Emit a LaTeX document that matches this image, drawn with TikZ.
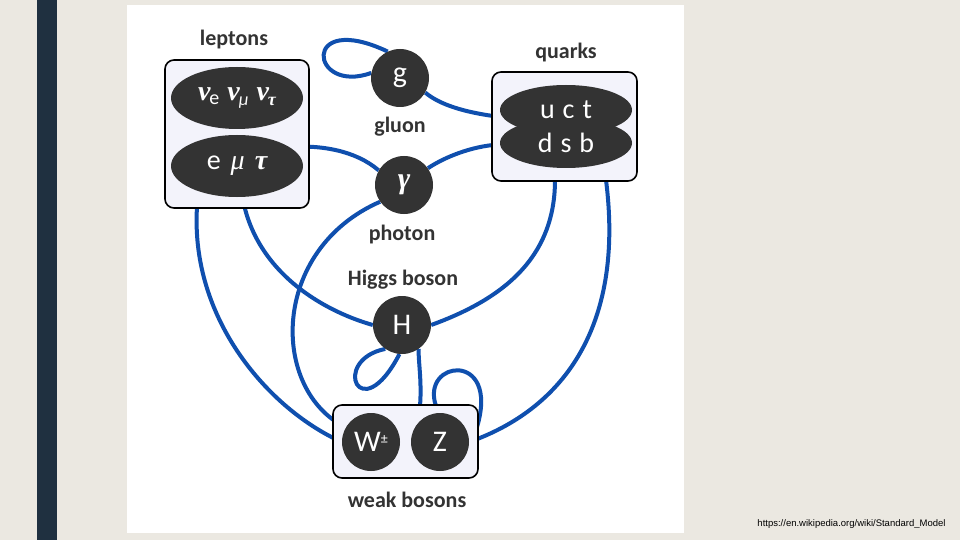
\documentclass[tikz,border=0pt]{standalone}
\usepackage{fontspec}
\setmainfont{Carlito}
\newfontfamily\capfont{Liberation Sans}
\newfontfamily\grk{Liberation Serif}
\usetikzlibrary{shapes.geometric}
\pgfdeclarelayer{bg}\pgfdeclarelayer{edges}\pgfsetlayers{bg,edges,main}
\definecolor{beige}{HTML}{EBE8E1}
\definecolor{bar}{HTML}{1F3040}
\definecolor{dk}{HTML}{333333}
\definecolor{lnk}{HTML}{0F4FAE}
\definecolor{boxf}{HTML}{F3F3FB}
\tikzset{
 lbl/.style={font=\bfseries\fontsize{22}{24}\selectfont, text=dk},
 part/.style={circle, fill=dk, minimum size=58pt, inner sep=0pt, text=white, font=\fontsize{30}{32}\selectfont},
 oval/.style={ellipse, fill=dk, minimum width=132pt, minimum height=62pt, inner sep=0pt, text=white, font=\fontsize{28}{30}\selectfont},
 grp/.style={draw=black, line width=1.6pt, fill=boxf, rounded corners=9pt},
 lk/.style={draw=lnk, line width=4pt}
}
\begin{document}
\begin{tikzpicture}[x=1pt,y=-1pt]
\begin{pgfonlayer}{bg}
\fill[beige] (0,0) rectangle (960,540);
\fill[bar] (37,0) rectangle (57,540);
\fill[white] (127,5) rectangle (684,533);
\end{pgfonlayer}
\draw[grp] (165,60) rectangle (309,208);
\draw[grp] (492,72) rectangle (637,181);
\draw[grp] (333,405) rectangle (478,478);
\node[lbl] (tl) at (234,40) {leptons};
\node[lbl] (tq) at (566,53) {quarks};
\node[lbl] (tg) at (400,127) {gluon};
\node[lbl] (tp) at (402,235) {photon};
\node[lbl] (th) at (403,280) {Higgs boson};
\node[lbl] (tw) at (407,500) {weak bosons};
\node[oval] (nu) at (237,98) {\grk\bfseries\itshape ν\kern-1pt{\normalfont\fontsize{20}{20}\selectfont\raisebox{-4pt}{e}}\kern8pt ν\kern-1pt{\normalfont\fontsize{18}{18}\selectfont\raisebox{-5pt}{\itshape μ}}\kern8pt ν\kern-1pt{\fontsize{18}{18}\selectfont\raisebox{-5pt}{τ}}};
\node[oval] (lep) at (237,166) {e\kern10pt{\grk\itshape μ}\kern10pt{\grk\bfseries\itshape τ}};
\node[oval, minimum height=50pt] (up) at (566,110) {u\kern8pt c\kern8pt t};
\node[oval, minimum height=50pt] (dn) at (566,143) {d\kern8pt s\kern8pt b};
\node[part] (g) at (400,78) {g};
\node[part] (ga) at (404,185) {\grk\bfseries\itshape γ};
\node[part] (H) at (402,325) {H};
\node[part] (W) at (371,442) {W\raisebox{8pt}{\fontsize{14}{14}\selectfont ±}};
\node[part] (Z) at (440,442) {Z};
\node[font=\capfont\fontsize{9.5}{10}\selectfont, anchor=east] (cap) at (949,524) {https://en.wikipedia.org/wiki/Standard\_Model};
\coordinate (qL1) at (493,116);
\coordinate (qL2) at (493,145);
\coordinate (qB1) at (555,180);
\coordinate (qB2) at (606,180);
\coordinate (lB) at (197,207);
\coordinate (wT) at (420,406);
\coordinate (zT) at (436,406);
\coordinate (zR) at (477,427);
\begin{pgfonlayer}{edges}
\draw[lk] (g.170) .. controls (310,95) and (300,10) .. (g.115);
\draw[lk] (g.-30) .. controls (440,105) and (465,112) .. (qL1);
\draw[lk] (lep.20) .. controls (320,145) and (355,150) .. (ga.150);
\draw[lk] (ga.35) .. controls (440,160) and (465,148) .. (qL2);
\draw[lk] (ga.215) .. controls (270,250) and (270,390) .. (W.150);
\draw[lk] (lB) .. controls (190,320) and (270,410) .. (W.180);
\draw[lk] (lep.-80) .. controls (255,270) and (320,310) .. (H.180);
\draw[lk] (H.0) .. controls (500,300) and (555,260) .. (qB1);
\draw[lk] (qB2) .. controls (625,330) and (560,410) .. (Z.0);
\draw[lk] (H.235) .. controls (330,360) and (360,430) .. (H.265);
\draw[lk] (H.-55) .. controls (418,360) and (422,380) .. (wT);
\draw[lk] (zT) .. controls (420,360) and (500,350) .. (zR);
\end{pgfonlayer}
\end{tikzpicture}
\end{document}
